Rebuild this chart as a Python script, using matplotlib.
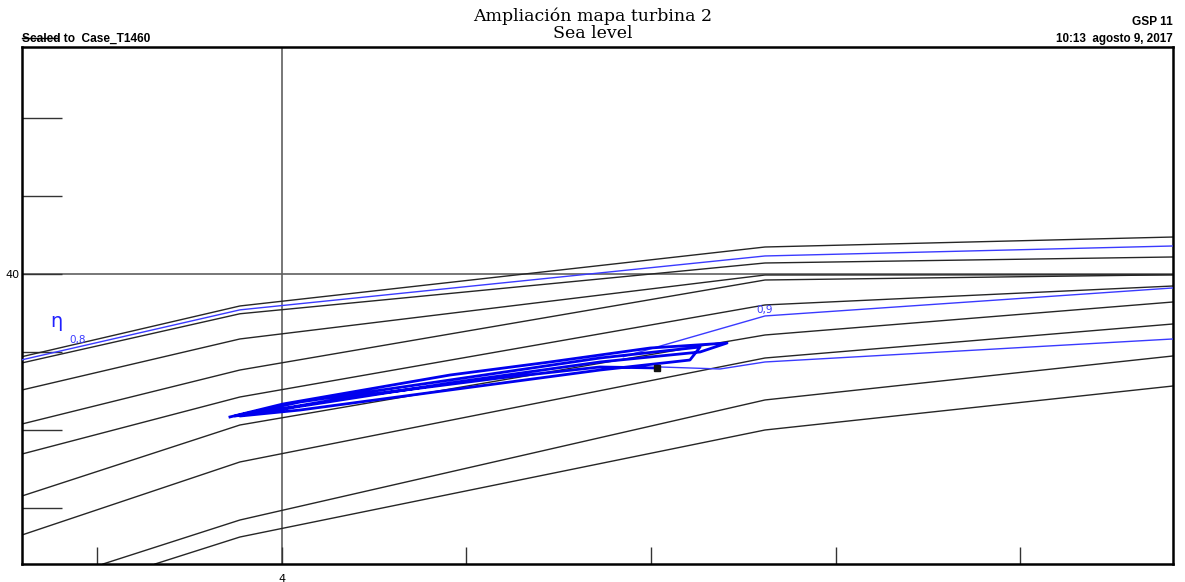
import matplotlib
matplotlib.use("Agg")
import matplotlib.pyplot as plt

# ---- data ----
x_lim = (2.591, 8.829)
y_lim = (36.282, 42.91)
x_ticks = [3, 4, 5, 6, 7, 8]
y_ticks = [37, 38, 39, 40, 41, 42]
x_label_tick = 4
y_label_tick = 40

# speed lines (black)
speed_x = [
    [2.591, 3.772, 6.618, 8.829],
    [2.591, 3.772, 6.618, 8.829],
    [2.591, 3.772, 6.618, 8.829],
    [2.591, 3.772, 6.618, 8.829],
    [2.591, 3.772, 6.618, 8.829],
    [2.591, 3.772, 6.618, 8.829],
    [2.591, 3.772, 6.618, 8.829],
    [3.030, 3.772, 6.618, 8.829],
    [3.312, 3.772, 6.618, 8.829],
]
speed_y = [
    [38.94, 39.59, 40.346, 40.474],
    [38.86, 39.49, 40.141, 40.218],
    [38.513, 39.167, 39.987, 39.99],
    [38.077, 38.769, 39.923, 39.99],
    [37.692, 38.423, 39.603, 39.846],
    [37.154, 38.064, 39.218, 39.641],
    [36.654, 37.590, 38.923, 39.359],
    [36.282, 36.846, 38.385, 38.949],
    [36.282, 36.628, 38.0, 38.564],
]

# efficiency contours (blue)
eta08_x = [2.591, 3.772, 6.618, 8.829]
eta08_y = [38.90, 39.54, 40.231, 40.359]
eta09_up_x = [5.85, 6.618, 8.829]
eta09_up_y = [38.94, 39.462, 39.821]
eta09_lo_x = [6.049, 6.374, 6.618, 8.829]
eta09_lo_y = [38.808, 38.782, 38.872, 39.167]

# operating trajectory
traj_x = [3.718, 4.005, 4.911, 5.453, 5.995, 6.412,
          6.266, 5.724, 4.911, 4.005, 3.745,
          4.098, 4.911, 5.724, 6.266,
          6.211, 5.724, 4.911, 4.098, 3.772,
          4.369, 5.182, 5.724, 6.033]
traj_y = [38.167, 38.333, 38.705, 38.872, 39.051, 39.115,
          39.0, 38.872, 38.603, 38.269, 38.179,
          38.359, 38.641, 38.923, 39.064,
          38.897, 38.769, 38.513, 38.256, 38.179,
          38.423, 38.667, 38.808, 38.795]
end_x = [6.033]
end_y = [38.795]

W, H = 1185, 582
fig = plt.figure(figsize=(W / 100, H / 100), dpi=100)
ax = fig.add_axes([22 / W, (582 - 564) / H, (1173 - 22) / W, (564 - 47) / H])
ax.set_xlim(*x_lim)
ax.set_ylim(*y_lim)

grid_c = "#606060"
ax.axvline(x_label_tick, color=grid_c, lw=1.2, zorder=1)
ax.axhline(y_label_tick, color=grid_c, lw=1.2, zorder=1)

for xs, ys in zip(speed_x, speed_y):
    ax.plot(xs, ys, color="#262626", lw=1.0, zorder=2)

blue_thin = "#3a3aff"
ax.plot(eta08_x, eta08_y, color=blue_thin, lw=1.0, zorder=3)
ax.plot(eta09_up_x, eta09_up_y, color=blue_thin, lw=1.0, zorder=3)
ax.plot(eta09_lo_x, eta09_lo_y, color=blue_thin, lw=1.0, zorder=3)
ax.plot(traj_x, traj_y, color="#0000ee", lw=2.0, zorder=4)
ax.plot(end_x, end_y, marker="s", ms=4, color="#111111", ls="none", zorder=5)

ax.text(2.78, 39.385, "η", color="#2020ff", fontsize=14, ha="center", va="center",
        family="DejaVu Sans")
ax.text(2.894, 39.154, "0,8", color="#3a3aff", fontsize=7.5, ha="center", va="center")
ax.text(6.618, 39.54, "0,9", color="#3a3aff", fontsize=7.5, ha="center", va="center")

ax.set_xticks(x_ticks)
ax.set_yticks(y_ticks)
ax.set_xticklabels([str(t) if t == x_label_tick else "" for t in x_ticks])
ax.set_yticklabels([str(t) if t == y_label_tick else "" for t in y_ticks])
ax.tick_params(axis="x", direction="in", length=12, width=1.0, color="#333333",
               labelsize=8, pad=7)
ax.tick_params(axis="y", direction="in", length=29, width=1.0, color="#333333",
               labelsize=8, pad=2)
for s in ax.spines.values():
    s.set_linewidth(1.8)
    s.set_color("black")

fig.text(593 / W, 1 - 16 / H, "Ampliación mapa turbina 2", ha="center", va="center",
         family="DejaVu Serif", fontsize=12.5)
fig.text(593 / W, 1 - 34 / H, "Sea level", ha="center", va="center",
         family="DejaVu Serif", fontsize=12.5)
fig.text(22 / W, 1 - 39 / H, "Scaled to  Case_T1460", ha="left", va="center",
         family="Liberation Sans", fontsize=8.6, fontweight="bold")
fig.add_artist(plt.Line2D([22 / W, 57 / W], [1 - 38 / H, 1 - 38 / H], color="black", lw=1))
fig.text(1173 / W, 1 - 22 / H, "GSP 11", ha="right", va="center",
         family="Liberation Sans", fontsize=8.6, fontweight="bold")
fig.text(1173 / W, 1 - 39 / H, "10:13  agosto 9, 2017", ha="right", va="center",
         family="Liberation Sans", fontsize=8.4, fontweight="bold")

fig.savefig("out.png", dpi=100)
